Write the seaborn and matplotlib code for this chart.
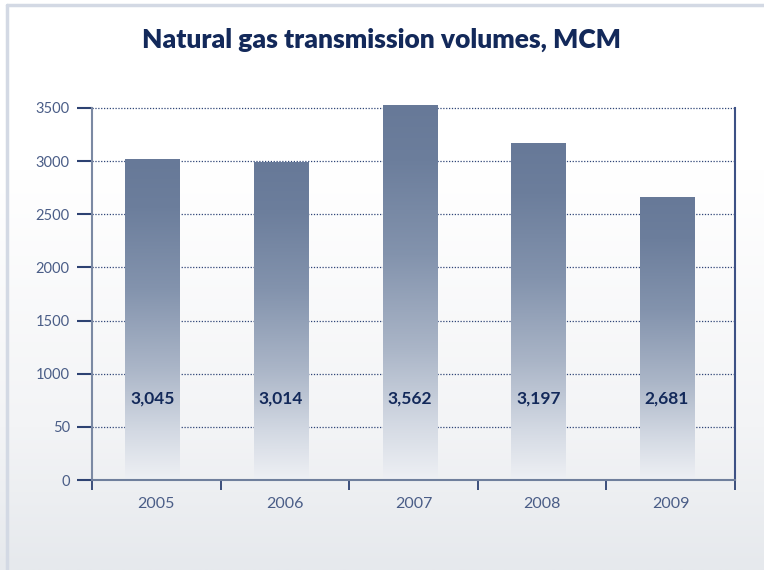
import matplotlib.pyplot as plt
import numpy as np
import pandas as pd
import seaborn as sns
from matplotlib.colors import LinearSegmentedColormap

# Data
years = ['2005', '2006', '2007', '2008', '2009']
bar_heights = [3020, 2990, 3530, 3170, 2665]
bar_labels = ['3,045', '3,014', '3,562', '3,197', '2,681']
ytick_values = [0, 500, 1000, 1500, 2000, 2500, 3000, 3500]
ytick_labels = ['0', '50', '1000', '1500', '2000', '2500', '3000', '3500']

df = pd.DataFrame({'Year': years, 'Volume': bar_heights})

sns.set_style('white')
plt.rcParams['font.family'] = ['Lato', 'DejaVu Sans']

navy = '#13295a'
tick_text = '#4a5d87'

fig = plt.figure(figsize=(7.64, 5.70), dpi=100)

# page background: white fading to light grey at the bottom, with thin frame
bg = fig.add_axes([0, 0, 1, 1], zorder=0)
bg_cmap = LinearSegmentedColormap.from_list(
    'bg', [(0, '#ffffff'), (0.3, '#ffffff'), (0.75, '#f3f4f6'), (1, '#e6e9ed')])
bg.imshow(np.linspace(0, 1, 256).reshape(-1, 1), aspect='auto', cmap=bg_cmap,
          extent=[0, 1, 1, 0])
bg.set_xlim(0, 1)
bg.set_ylim(1, 0)
bg.plot([7 / 764, 1], [5 / 570, 5 / 570], color='#d3d9e4', lw=2.5)
bg.plot([7 / 764, 7 / 764], [5 / 570, 1], color='#d3d9e4', lw=2.5)
bg.axis('off')

fig.text(0.5, 1 - 40 / 570, 'Natural gas transmission volumes, MCM',
         ha='center', va='center', fontsize=19, fontweight='heavy', color=navy)

left, right = 92 / 764, 735 / 764
bottom = 1 - 480 / 570
ymax = 3540
top = 1 - (480 - ymax / 500 * (372 / 7)) / 570
ax = fig.add_axes([left, bottom, right - left, top - bottom], zorder=1)
ax.patch.set_alpha(0)

sns.barplot(data=df, x='Year', y='Volume', width=0.42, color='#677998', ax=ax)

# vertical gradient inside each bar (bars sit a little left of centre)
bar_cmap = LinearSegmentedColormap.from_list(
    'bar', [(0, '#eef0f4'), (0.15, '#d3d9e3'), (0.35, '#aab5c7'),
            (0.6, '#8393ad'), (0.85, '#6c7e9c'), (1, '#677998')])
grad = np.linspace(0, 1, 256).reshape(-1, 1)
centers = []
for p in ax.patches:
    p.set_x(p.get_x() - 0.03)
    x0, w, h = p.get_x(), p.get_width(), p.get_height()
    centers.append(x0 + w / 2)
    im = ax.imshow(grad, aspect='auto', cmap=bar_cmap, origin='lower',
                   extent=[x0, x0 + w, 0, h], zorder=2)
    im.set_clip_path(p)
    p.set_facecolor('none')
    p.set_edgecolor('none')

for c, lab in zip(centers, bar_labels):
    ax.text(c, 770, lab, ha='center', va='center', fontsize=12.5,
            fontweight='bold', color=navy, zorder=3)

ax.set_xlim(-0.5, 4.5)
ax.set_ylim(0, ymax)
ax.set_xlabel('')
ax.set_ylabel('')

ax.set_yticks(ytick_values)
ax.set_yticklabels(ytick_labels)
ax.tick_params(axis='y', length=11, width=1.5, color='#2d4272', pad=5,
               labelsize=10.5, labelcolor=tick_text, left=True)

ax.set_xticks([-0.5, 0.5, 1.5, 2.5, 3.5, 4.5])
ax.set_xticklabels([''] * 6)
ax.tick_params(axis='x', which='major', length=7.5, width=1.3, color='#2d4272',
               bottom=True)
ax.set_xticks(range(5), minor=True)
ax.set_xticklabels(years, minor=True)
ax.tick_params(axis='x', which='minor', length=0, pad=12, labelsize=11.5,
               labelcolor=tick_text)

ax.set_axisbelow(True)
ax.yaxis.grid(True, linestyle=(0, (1, 1.3)), color='#2f4577', lw=0.9)
ax.xaxis.grid(False)

ax.spines['top'].set_visible(False)
ax.spines['left'].set_bounds(0, 3500)
ax.spines['right'].set_bounds(0, 3500)
ax.spines['left'].set_color('#7b89a3')
ax.spines['bottom'].set_color('#6f7f9c')
ax.spines['right'].set_color('#3d5185')
for s in ['left', 'bottom', 'right']:
    ax.spines[s].set_linewidth(1.5)
    ax.spines[s].set_visible(True)

fig.savefig('out.png', dpi=100)
